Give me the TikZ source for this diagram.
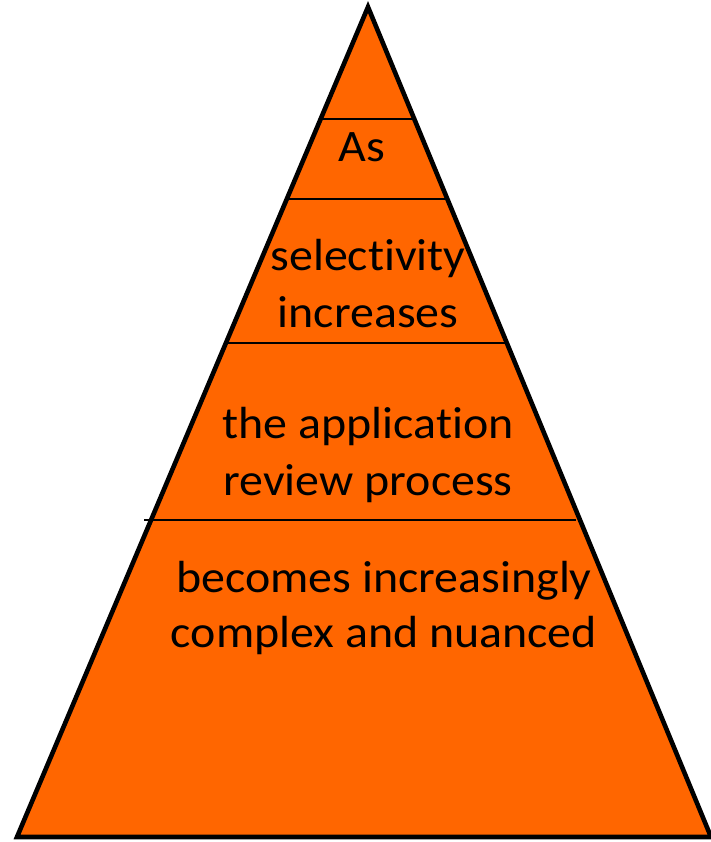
\documentclass[tikz,border=0pt]{standalone}
\usepackage{fontspec}
\setmainfont{Carlito}[Ligatures=NoCommon,FakeStretch=1.065]
\definecolor{pyr}{HTML}{FF6600}
\begin{document}
\begin{tikzpicture}[x=1pt,y=-1pt,
  lbl/.style={anchor=base,inner sep=0pt,font=\fontsize{45}{55}\selectfont},
  sep/.style={draw=black,line width=1.8pt}]
\useasboundingbox (0,0) rectangle (711,842);
\coordinate (apex) at (368,7);
\coordinate (bl) at (17,837);
\coordinate (br) at (711,837);
\filldraw[fill=pyr,draw=black,line width=4.6pt,line join=miter] (apex) -- (br) -- (bl) -- cycle;
\coordinate (l1a) at (322,119); \coordinate (l1b) at (413,119);
\coordinate (l2a) at (288,199); \coordinate (l2b) at (447,199);
\coordinate (l3a) at (228,343); \coordinate (l3b) at (508,343);
\coordinate (l4a) at (144,520); \coordinate (l4b) at (576,520);
\draw[sep] (l1a) -- (l1b);
\draw[sep] (l2a) -- (l2b);
\draw[sep] (l3a) -- (l3b);
\draw[sep] (l4a) -- (l4b);
\node[lbl] (t1) at (362,162) {As};
\node[lbl] (t2) at (368,270) {selectivity};
\node[lbl] (t3) at (368,327) {increases};
\node[lbl] (t4) at (368,438) {the application};
\node[lbl] (t5) at (368,495) {review process};
\node[lbl] (t6) at (384,592) {becomes increasingly};
\node[lbl] (t7) at (384,647) {complex and nuanced};
\end{tikzpicture}
\end{document}
